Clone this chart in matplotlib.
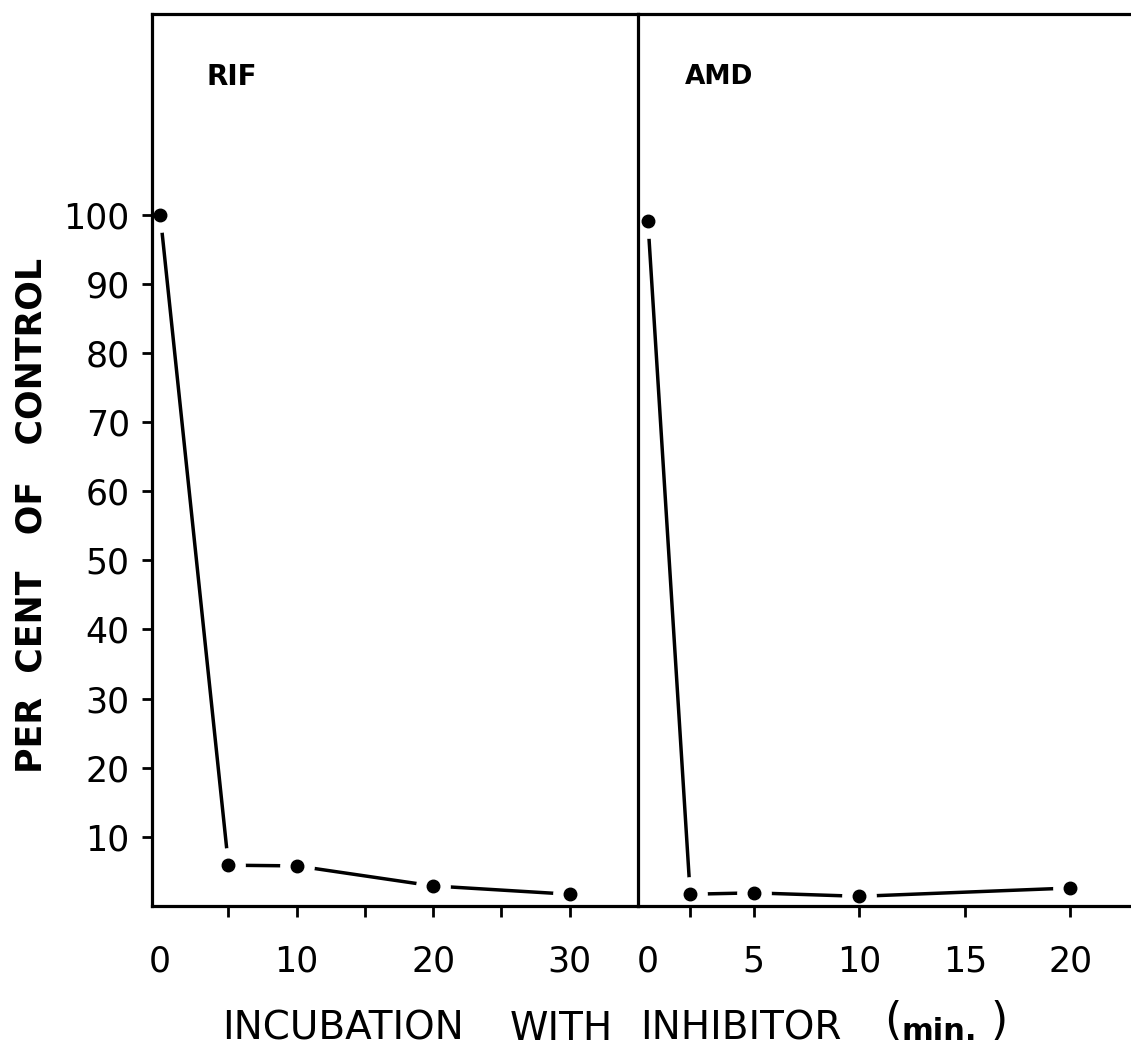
import matplotlib
matplotlib.use("Agg")
import matplotlib.pyplot as plt

# ---- data ----
rif_time = [0, 5, 10, 20, 30]
rif_pct = [100, 5.9, 5.8, 2.9, 1.7]
amd_time = [0, 2, 5, 10, 20]
amd_pct = [99, 1.7, 1.9, 1.4, 2.6]

y_ticks = [10, 20, 30, 40, 50, 60, 70, 80, 90, 100]
rif_label_ticks = [0, 10, 20, 30]
rif_mark_ticks = [5, 10, 15, 20, 25, 30]
amd_label_ticks = [0, 5, 10, 15, 20]
amd_mark_ticks = [2, 5, 10, 15, 20]

plt.rcParams['font.family'] = ['DejaVu Sans']

W, H = 1131, 1052
fig = plt.figure(figsize=(W / 100, H / 100), dpi=100)

bottom = 1 - 906 / H
height = (906 - 14) / H
ax1 = fig.add_axes([152 / W, bottom, (638 - 152) / W, height])
ax2 = fig.add_axes([638 / W, bottom, (W - 638) / W + 0.01, height])

SPINE_LW = 2.3
LINE_LW = 2.5
TICK_FS = 25


def draw(ax, t, p):
    ax.plot(t, p, color='black', lw=LINE_LW, zorder=2, solid_capstyle='butt')
    ax.plot(t, p, linestyle='none', marker='o', markersize=25,
            markerfacecolor='white', markeredgecolor='none', zorder=2.1)
    ax.plot(t, p, linestyle='none', marker='o', markersize=9,
            markerfacecolor='black', markeredgecolor='black', zorder=3)
    for s in ax.spines.values():
        s.set_linewidth(SPINE_LW)
        s.set_zorder(2.5)
    ax.set_ylim(0, 129)


draw(ax1, rif_time, rif_pct)
draw(ax2, amd_time, amd_pct)

ax1.set_xlim(-0.6, 35.0)
ax2.set_xlim(-0.47, 23.4)

ax1.spines['right'].set_visible(False)
ax2.spines['right'].set_visible(False)

# y axis
ax1.set_yticks(y_ticks)
ax1.set_yticklabels([str(v) for v in y_ticks], fontsize=TICK_FS)
ax1.tick_params(axis='y', direction='out', length=7, width=2, pad=9)
ax2.set_yticks([])

# x axis: labels on major (no mark), marks on minor
for ax, lab, mark in [(ax1, rif_label_ticks, rif_mark_ticks),
                      (ax2, amd_label_ticks, amd_mark_ticks)]:
    ax.xaxis.remove_overlapping_locs = False
    ax.set_xticks(lab)
    ax.set_xticklabels([str(v) for v in lab], fontsize=TICK_FS)
    ax.set_xticks(mark, minor=True)
    ax.tick_params(axis='x', which='major', length=0, pad=28)
    ax.tick_params(axis='x', which='minor', direction='out', length=8, width=2)

ax1.text(0.113, 0.929, 'RIF', transform=ax1.transAxes, fontsize=20,
         fontweight='bold', ha='left', va='center')
ax2.text(0.092, 0.929, 'AMD', transform=ax2.transAxes, fontsize=19,
         fontweight='bold', ha='left', va='center')

fig.text(32 / W, 1 - 515 / H, 'PER  CENT   OF   CONTROL', rotation=90,
         fontsize=25, fontweight='bold', ha='center', va='center')

# x-axis title, word by word
base_y = 1 - 1040 / H
for word, xpix in [('INCUBATION', 222), ('WITH', 510), ('INHIBITOR', 640)]:
    fig.text(xpix / W, base_y, word, fontsize=28,
             ha='left', va='baseline')
fig.text(884 / W, 1 - 1034 / H, '(', fontsize=32, ha='left', va='baseline')
fig.text(901 / W, base_y, 'min.', fontsize=22, fontweight='bold',
         ha='left', va='baseline')
fig.text(990 / W, 1 - 1034 / H, ')', fontsize=32, ha='left', va='baseline')

fig.savefig('out.png', dpi=100)
